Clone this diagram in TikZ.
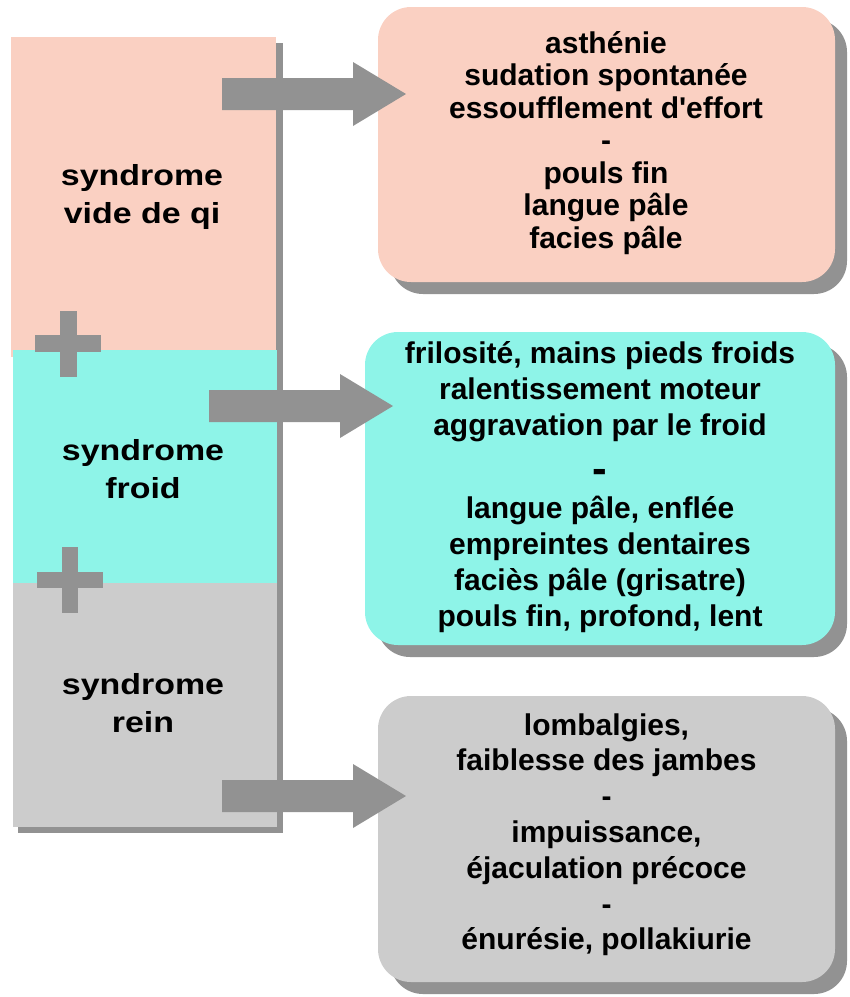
\documentclass[tikz,border=0pt]{standalone}
\usepackage{fontspec}
\setmainfont{Liberation Sans}[Ligatures={TeXOff,CommonOff}]
\newfontfamily\leftfont{Liberation Sans}[FakeStretch=1.17,Ligatures={TeXOff,CommonOff}]
\usetikzlibrary{calc,shadows}
\definecolor{pinkfill}{RGB}{250,208,194}
\definecolor{cyanfill}{RGB}{142,244,232}
\definecolor{grayfill}{RGB}{204,204,204}
\definecolor{arrowgray}{RGB}{146,146,146}
\begin{document}
\begin{tikzpicture}[x=1pt,y=-1pt,
  blockarrow/.style={fill=arrowgray},
  plusbar/.style={fill=arrowgray},
  lefttext/.style={font=\leftfont\bfseries\fontsize{29}{38}\selectfont, align=center, inner sep=0pt},
  symbox/.style={rounded corners=33pt, inner sep=0pt, minimum width=#1,
    drop shadow={shadow xshift=12pt, shadow yshift=-12pt, fill=arrowgray, opacity=1}},
  boxtext/.style={align=center, inner sep=0pt}
]
\useasboundingbox (0,0) rectangle (850,997);

% left column
\fill[arrowgray] (18,43) rectangle (283,833);
\fill[pinkfill] (11,37) rectangle (276,357);
\fill[cyanfill] (13,350) rectangle (277,583);
\fill[grayfill] (13,583) rectangle (277,827);

% plus signs
\fill[plusbar] (60,311) rectangle (77,377);
\fill[plusbar] (35,335) rectangle (101,352);
\fill[plusbar] (62,547) rectangle (78,613);
\fill[plusbar] (37,572) rectangle (103,588);

% left labels
\node[lefttext] (qi) at (142,196.4) {\strut syndrome\\vide de qi\strut};
\node[lefttext] (froid) at (143,471.4) {\strut syndrome\\froid\strut};
\node[lefttext] (rein) at (143,705.9) {\strut syndrome\\rein\strut};

% right boxes
\node[symbox=457pt, minimum height=275pt, fill=pinkfill] (box1) at (606.5,144.5) {};
\node[symbox=470pt, minimum height=313pt, fill=cyanfill] (box2) at (600,488.5) {};
\node[symbox=457pt, minimum height=286pt, fill=grayfill] (box3) at (606.5,839) {};

\node[boxtext, font=\bfseries\fontsize{30}{32.5}\selectfont] (t1) at (606,144)
  {\strut asthénie\\sudation spontanée\\essoufflement d'effort\\-\\pouls fin\\langue pâle\\facies pâle\strut};
\node[boxtext, font=\bfseries\fontsize{30}{36}\selectfont] (t2) at (600,487.3)
  {\strut frilosité, mains pieds froids\\ralentissement moteur\\aggravation par le froid\\[12pt]{\fontsize{44}{36}\selectfont -}\\[-1pt]langue pâle, enflée\\empreintes dentaires\\faciès pâle (grisatre)\\pouls fin, profond, lent\strut};
\node[boxtext, font=\bfseries\fontsize{30}{35.8}\selectfont] (t3) at (606.5,835.3)
  {\strut lombalgies,\\faiblesse des jambes\\-\\impuissance,\\ éjaculation précoce\\-\\énurésie, pollakiurie\strut};

% arrows
\coordinate (a1s) at (222,94);  \coordinate (a1e) at (406,94);
\coordinate (a2s) at (209,406); \coordinate (a2e) at (393,406);
\coordinate (a3s) at (222,796); \coordinate (a3e) at (406,796);
\foreach \s/\e in {a1s/a1e, a2s/a2e, a3s/a3e}{
  \fill[blockarrow] ($(\s)+(0,-16)$) -- ($(\e)+(-53,-16)$) -- ($(\e)+(-53,-32)$) -- (\e)
    -- ($(\e)+(-53,32)$) -- ($(\e)+(-53,16)$) -- ($(\s)+(0,16)$) -- cycle;
}
\end{tikzpicture}
\end{document}
